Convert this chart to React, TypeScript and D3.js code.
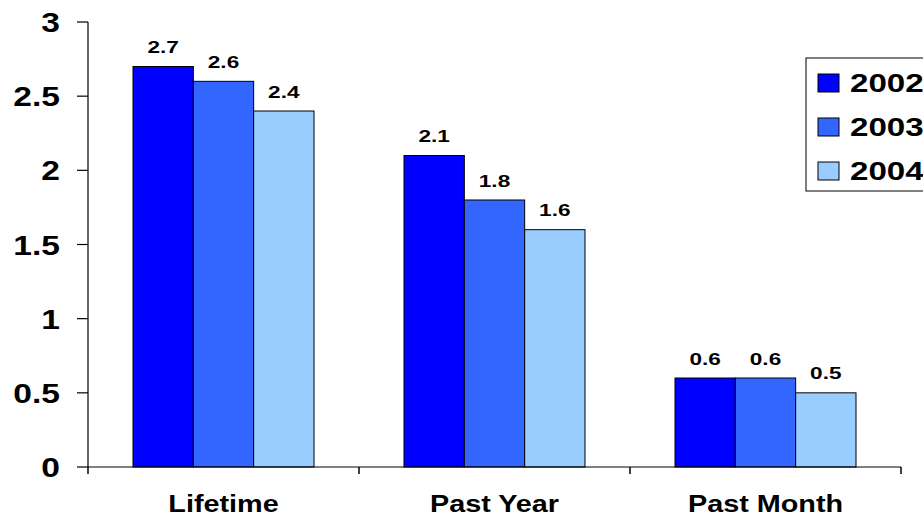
import React from "react";
import * as d3 from "d3";

const categories = ["Lifetime", "Past Year", "Past Month"];
const seriesNames = ["2002", "2003", "2004"];
const values2002 = [2.7, 2.1, 0.6];
const values2003 = [2.6, 1.8, 0.6];
const values2004 = [2.4, 1.6, 0.5];
const seriesValues = [values2002, values2003, values2004];
const colors = ["#0000FF", "#3366FF", "#99CCFF"];
const yTicks = [0, 0.5, 1, 1.5, 2, 2.5, 3];
const yTickLabels = ["0", "0.5", "1", "1.5", "2", "2.5", "3"];

const W = 923;
const H = 518;
const FONT = "'Liberation Sans', Arial, sans-serif";

function SText({ x, y, size, anchor, sx, children }: any) {
  return (
    <g transform={`translate(${x},${y}) scale(${sx},1)`}>
      <text
        x={0}
        y={0}
        textAnchor={anchor}
        fontFamily={FONT}
        fontWeight="bold"
        fontSize={size}
        fill="#000"
      >
        {children}
      </text>
    </g>
  );
}

export default function App() {
  const left = 88;
  const right = 901;
  const top = 22;
  const bottom = 467;

  const y = d3.scaleLinear().domain([0, 3]).range([bottom, top]);
  const x0 = d3.scaleBand<string>().domain(categories).range([left, right]).paddingInner(0).paddingOuter(0);
  const bw = x0.bandwidth();
  const pad = bw * (45 / 271);
  const x1 = d3.scaleBand<string>().domain(seriesNames).range([pad, bw - pad]).padding(0);

  return (
    <svg width={W} height={H} style={{ position: "absolute", left: 0, top: 0, background: "#fff" }}>
      <rect x={0} y={0} width={W} height={H} fill="#fff" />
      {categories.map((c, ci) =>
        seriesNames.map((s, si) => {
          const v = seriesValues[si][ci];
          const bx = (x0(c) as number) + (x1(s) as number);
          const by = y(v);
          return (
            <g key={c + s}>
              <rect
                x={bx}
                y={by}
                width={x1.bandwidth()}
                height={bottom - by}
                fill={colors[si]}
                stroke="#000"
                strokeWidth={1}
              />
              <SText x={bx + x1.bandwidth() / 2} y={by - 13.5} size={17} sx={1.33} anchor="middle">
                {v.toFixed(1)}
              </SText>
            </g>
          );
        })
      )}
      <line x1={left} y1={top} x2={left} y2={bottom} stroke="#000" strokeWidth={1.2} />
      {yTicks.map((t, i) => (
        <g key={t}>
          <line x1={left - 11} x2={left} y1={y(t)} y2={y(t)} stroke="#000" strokeWidth={1.2} />
          <SText x={60} y={y(t) + 10} size={28} sx={1.2} anchor="end">
            {yTickLabels[i]}
          </SText>
        </g>
      ))}
      <line x1={left} y1={bottom} x2={right} y2={bottom} stroke="#000" strokeWidth={1.2} />
      {[...categories.map((c) => x0(c) as number), right].map((tx, i) => (
        <line key={i} x1={tx} x2={tx} y1={bottom} y2={bottom + 7} stroke="#000" strokeWidth={1.5} />
      ))}
      {categories.map((c) => (
        <SText key={c} x={(x0(c) as number) + bw / 2} y={512} size={24} sx={1.2} anchor="middle">
          {c}
        </SText>
      ))}
      <rect x={806} y={58} width={140} height={133} fill="#fff" stroke="#000" strokeWidth={1} />
      {seriesNames.map((s, i) => (
        <g key={s}>
          <rect x={818} y={74 + i * 44} width={21} height={18} fill={colors[i]} stroke="#000" strokeWidth={1} />
          <SText x={850} y={92 + i * 44} size={25.5} sx={1.3} anchor="start">
            {s}
          </SText>
        </g>
      ))}
    </svg>
  );
}
